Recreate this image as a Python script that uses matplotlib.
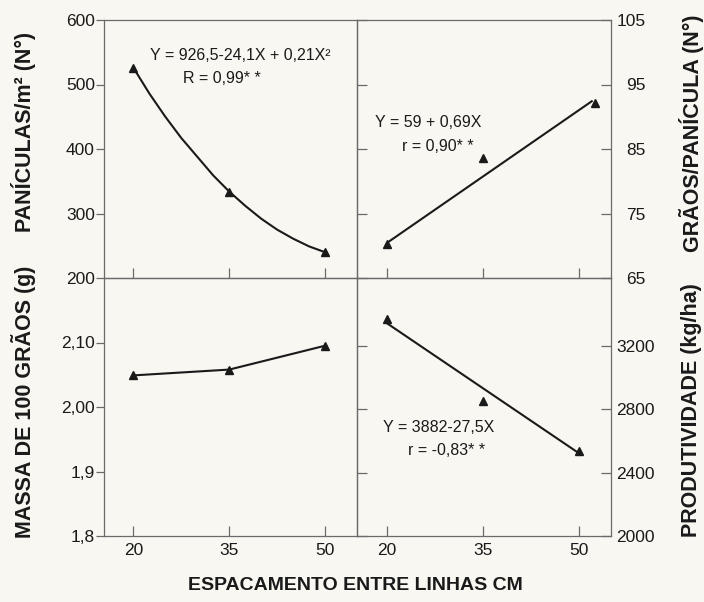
import matplotlib
matplotlib.use('Agg')
import matplotlib.pyplot as plt

plt.rcParams['font.family'] = ['Liberation Sans', 'DejaVu Sans']

# spacing (cm)
spacing = [20, 35, 50]
spacing_labels = ['20', '35', '50']

pan_obs = [526, 333, 240]
pan_fit_x = [20, 22.5, 25, 27.5, 30, 32.5, 35, 37.5, 40, 42.5, 45, 47.5, 50]
pan_fit_y = [526, 486, 450, 417, 388, 359, 334, 312, 292, 275, 261, 249, 240]

# grains per panicle
grain_x = [20, 35, 52.5]
grain_obs = [70.2, 83.6, 92.1]
grain_fit_x = [20.3, 52]
grain_fit_y = [70.6, 92.4]

# mass of 100 grains (g)
mass_obs = [2.049, 2.058, 2.095]

# yield (kg/ha)
yield_obs = [3371, 2852, 2538]
yield_fit_x = [20, 50]
yield_fit_y = [3346, 2523]

pan_ticks = [200, 300, 400, 500, 600]
grain_ticks = [65, 75, 85, 95, 105]
mass_ticks = [1.8, 1.9, 2.0, 2.1]
mass_ticklabels = ['1,8', '1,9', '2,00', '2,10']
yield_ticks = [2000, 2400, 2800, 3200]

BG = '#f8f7f2'
SP = '#6a6a6a'
INK = '#1a1a1a'
ANN = 11.5

fig = plt.figure(figsize=(7.04, 6.02), dpi=100, facecolor=BG)
L, M, R = 104/704, 357/704, 611/704
T, C, B = 1-20/602, 1-278/602, 1-536/602
ax_tl = fig.add_axes([L, C, M-L, T-C])
ax_tr = fig.add_axes([M, C, R-M, T-C])
ax_bl = fig.add_axes([L, B, M-L, C-B])
ax_br = fig.add_axes([M, B, R-M, C-B])

for ax in (ax_tl, ax_tr, ax_bl, ax_br):
    ax.set_facecolor('none')
    ax.set_xlim(15.4, 55)
    ax.set_xticks(spacing)
    for s in ax.spines.values():
        s.set_color(SP); s.set_linewidth(0.9)
    ax.tick_params(colors=SP, labelcolor=INK, labelsize=12.5, width=0.9)
    ax.tick_params(axis='x', direction='in', length=7, top=False, pad=5)

# top-left
ax_tl.set_ylim(200, 600)
ax_tl.set_yticks(pan_ticks)
ax_tl.tick_params(axis='y', direction='out', length=5.5, pad=1)
ax_tl.tick_params(axis='x', labelbottom=False)
ax_tl.plot(pan_fit_x, pan_fit_y, color=INK, lw=1.5)
ax_tl.plot(spacing, pan_obs, ls='none', marker='^', ms=5.5, color=INK)
ax_tl.text(0.182, 0.864, 'Y = 926,5-24,1X + 0,21X²', transform=ax_tl.transAxes,
           fontsize=ANN, va='center', color=INK)
ax_tl.text(0.312, 0.775, 'R = 0,99* *', transform=ax_tl.transAxes,
           fontsize=ANN, va='center', color=INK)

# top-right
ax_tr.set_ylim(65, 105)
ax_tr.set_yticks(grain_ticks)
ax_tr.tick_params(axis='y', direction='in', length=7, left=True, right=True,
                  labelleft=False, labelright=True, pad=25)
for t in ax_tr.get_yticklabels():
    t.set_horizontalalignment('right')
ax_tr.tick_params(axis='x', labelbottom=False)
ax_tr.plot(grain_fit_x, grain_fit_y, color=INK, lw=1.5)
ax_tr.plot(grain_x, grain_obs, ls='none', marker='^', ms=5.5, color=INK)
ax_tr.text(0.071, 0.601, 'Y = 59 + 0,69X', transform=ax_tr.transAxes,
           fontsize=ANN, va='center', color=INK)
ax_tr.text(0.177, 0.508, 'r = 0,90* *', transform=ax_tr.transAxes,
           fontsize=ANN, va='center', color=INK)

# bottom-left
ax_bl.set_ylim(1.8, 2.2)
ax_bl.set_yticks(mass_ticks)
ax_bl.set_yticklabels(mass_ticklabels)
ax_bl.tick_params(axis='y', direction='out', length=5.5, pad=1)
ax_bl.set_xticklabels(spacing_labels)
ax_bl.plot(spacing, mass_obs, color=INK, lw=1.5, marker='^', ms=5.5)

# bottom-right
ax_br.set_ylim(2000, 3630)
ax_br.set_yticks(yield_ticks)
ax_br.tick_params(axis='y', direction='in', length=7, left=True, right=True,
                  labelleft=False, labelright=True, pad=4)
ax_br.set_xticklabels(spacing_labels)
ax_br.plot(yield_fit_x, yield_fit_y, color=INK, lw=1.5)
ax_br.plot(spacing, yield_obs, ls='none', marker='^', ms=5.5, color=INK)
ax_br.text(0.102, 0.419, 'Y = 3882-27,5X', transform=ax_br.transAxes,
           fontsize=ANN, va='center', color=INK)
ax_br.text(0.200, 0.333, 'r = -0,83* *', transform=ax_br.transAxes,
           fontsize=ANN, va='center', color=INK)

# axis titles
lab = dict(fontsize=15.5, fontweight='bold', color=INK, rotation=90, ha='center', va='center')
fig.text(24/704, 1-132/602, 'PANÍCULAS/m² (N°)', **lab)
fig.text(24/704, 1-402/602, 'MASSA DE 100 GRÃOS (g)', **lab)
fig.text(692/704, 1-133/602, 'GRÃOS/PANÍCULA (N°)', **lab)
fig.text(692/704, 1-410/602, 'PRODUTIVIDADE (kg/ha)', **lab)
fig.text(355/704, 1-585/602, 'ESPACAMENTO ENTRE LINHAS CM', fontsize=14,
         fontweight='bold', color=INK, ha='center', va='center')

fig.savefig('out.png', dpi=100, facecolor=BG)
